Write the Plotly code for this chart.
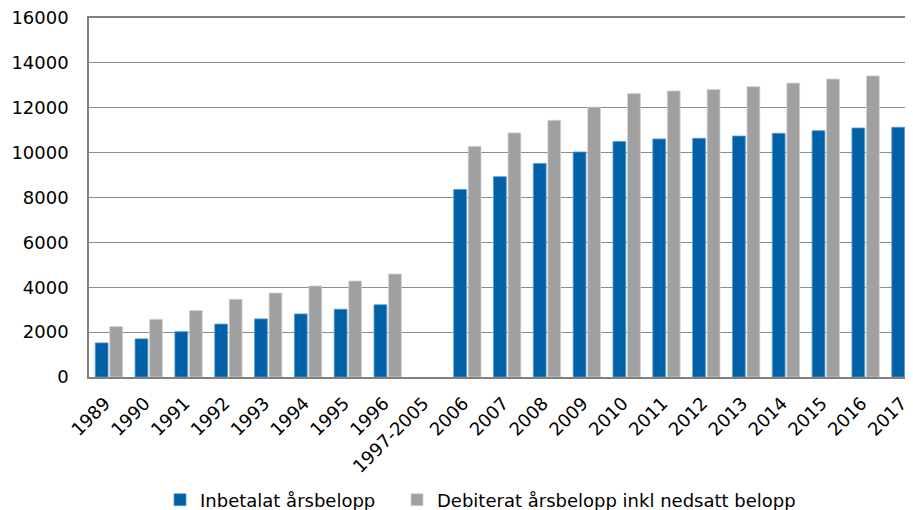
import plotly.graph_objects as go

categories = ["1989", "1990", "1991", "1992", "1993", "1994", "1995", "1996", "1997-2005",
              "2006", "2007", "2008", "2009", "2010", "2011", "2012", "2013", "2014", "2015", "2016", "2017"]
inbetalat = [1520, 1700, 2020, 2360, 2590, 2810, 3020, 3220, None,
             8360, 8930, 9520, 10030, 10500, 10610, 10640, 10740, 10860, 10980, 11100, 11130]
debiterat = [2250, 2570, 2960, 3460, 3740, 4060, 4280, 4590, None,
             10280, 10880, 11440, 12030, 12630, 12750, 12810, 12940, 13100, 13280, 13420, 13460]
series_names = ["Inbetalat årsbelopp", "Debiterat årsbelopp inkl nedsatt belopp"]
y_ticks = [0, 2000, 4000, 6000, 8000, 10000, 12000, 14000, 16000]

FONT = "DejaVu Sans, Verdana, sans-serif"
W, H = 905, 502  # page body has an 8px default margin
ML = 81
PW = W - ML

fig = go.Figure()
fig.add_trace(go.Bar(x=categories, y=inbetalat, name=series_names[0], legend="legend",
                     marker=dict(color="#0061A6", line=dict(color="#5C9BD1", width=0.8))))
fig.add_trace(go.Bar(x=categories, y=debiterat, name=series_names[1], legend="legend2",
                     marker=dict(color="#A0A0A0", line=dict(color="#D0D0D0", width=0.8))))

leg_common = dict(xanchor="left", yref="container", xref="paper", y=10 / H, yanchor="middle",
                  font=dict(size=18), itemwidth=30, bgcolor="rgba(0,0,0,0)")
fig.update_layout(
    width=W, height=H,
    margin=dict(l=ML, r=0, t=10, b=133),
    paper_bgcolor="white", plot_bgcolor="white",
    barmode="group", bargap=0.27, bargroupgap=0.12,
    font=dict(family=FONT, size=18, color="black"),
    showlegend=True,
    legend=dict(x=(152 - ML) / PW, **leg_common),
    legend2=dict(x=(389 - ML) / PW, **leg_common),
)
fig.update_xaxes(type="category", range=[-0.5, 20.19], tickangle=-45, automargin=False,
                 showline=True, linecolor="#808080", linewidth=1.5, mirror=True,
                 showgrid=False, ticks="", tickfont=dict(size=18),
                 ticklabelstandoff=7, ticklabelshift=-4)
fig.update_yaxes(range=[0, 16000], tickvals=y_ticks, ticktext=[str(v) for v in y_ticks],
                 automargin=False, ticklabelstandoff=15, ticklabeloverflow="allow",
                 showgrid=True, gridcolor="#8C8C8C", gridwidth=1.3,
                 showline=True, linecolor="#808080", linewidth=1.5,
                 ticks="", tickfont=dict(size=18), zeroline=False)

fig.write_html("out.html")
